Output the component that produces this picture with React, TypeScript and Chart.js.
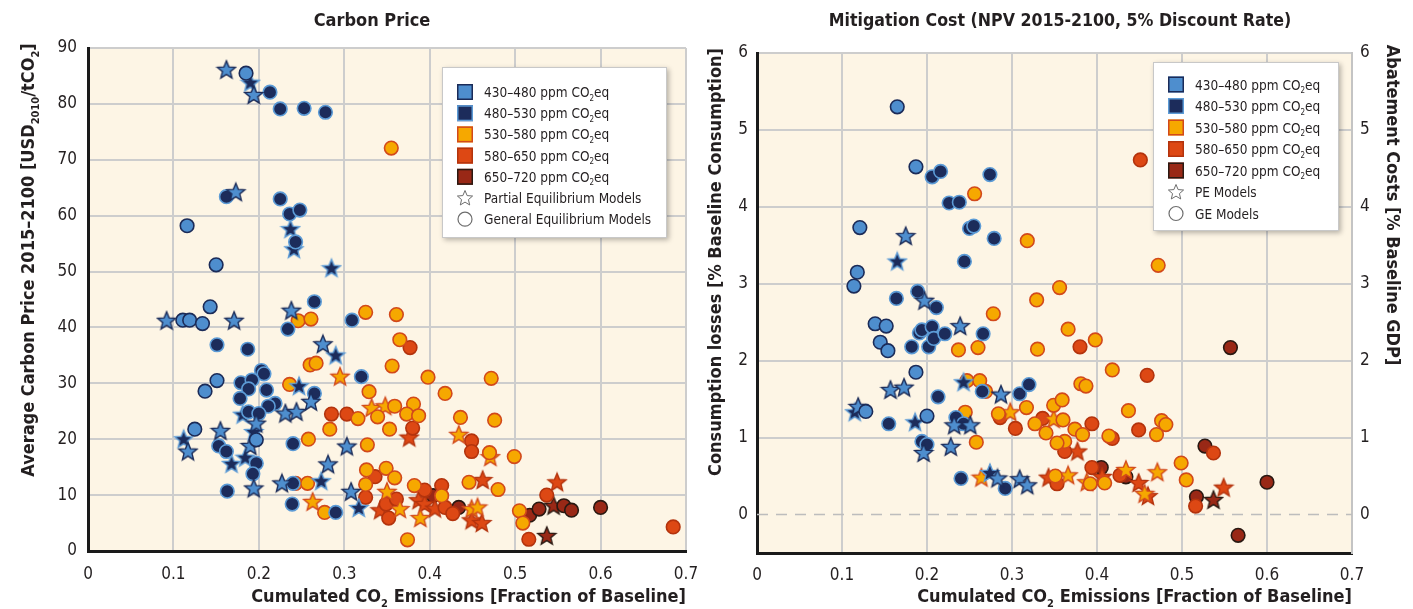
import React, { useEffect, useRef } from 'react';
import { Chart, registerables } from 'chart.js';
Chart.register(...registerables);

const FONT = '"Liberation Sans Narrow", "DejaVu Sans Condensed", "Roboto Condensed", "Open Sans", sans-serif';

// ---------- Carbon Price (left) ----------
const cpTitle = 'Carbon Price';
const cpXTicks = [0, 0.1, 0.2, 0.3, 0.4, 0.5, 0.6, 0.7];
const cpXLabels = ['0', '0.1', '0.2', '0.3', '0.4', '0.5', '0.6', '0.7'];
const cpYTicks = [0, 10, 20, 30, 40, 50, 60, 70, 80, 90];
const cpYLabels = ['0', '10', '20', '30', '40', '50', '60', '70', '80', '90'];

const cp430GE = [[0.185, 85.5], [0.116, 58.2], [0.150, 51.2], [0.143, 43.7], [0.111, 41.3], [0.119, 41.3], [0.134, 40.7], [0.151, 30.5], [0.137, 28.6], [0.125, 21.8], [0.197, 19.9]];
const cp430PE = [[0.162, 86.1], [0.194, 81.6], [0.173, 64.2], [0.092, 41.2], [0.171, 41.2], [0.238, 43.0], [0.275, 37.0], [0.261, 26.7], [0.231, 24.6], [0.244, 24.9], [0.197, 22.8], [0.190, 18.8], [0.155, 21.5], [0.117, 17.8], [0.194, 11.2], [0.303, 18.7], [0.281, 15.5], [0.227, 12.1], [0.308, 10.6]];
const cp480GE = [[0.213, 82.1], [0.225, 79.1], [0.253, 79.2], [0.278, 78.5], [0.162, 63.4], [0.225, 63.0], [0.236, 60.3], [0.248, 61.0], [0.243, 55.3], [0.265, 44.6], [0.234, 39.7], [0.309, 41.3], [0.151, 36.9], [0.187, 36.1], [0.320, 31.2], [0.203, 32.3], [0.206, 31.7], [0.179, 30.1], [0.192, 30.6], [0.188, 29.0], [0.209, 28.8], [0.178, 27.3], [0.219, 26.4], [0.211, 25.9], [0.265, 28.2], [0.188, 24.9], [0.200, 24.6], [0.240, 19.2], [0.153, 18.8], [0.162, 17.8], [0.197, 15.7], [0.193, 13.8], [0.163, 10.7], [0.240, 12.1], [0.239, 8.4], [0.290, 6.9]];
const cp480PE = [[0.190, 83.8], [0.237, 57.6], [0.241, 54.0], [0.285, 50.6], [0.181, 24.4], [0.194, 21.3], [0.168, 15.6], [0.184, 16.7], [0.112, 20.0], [0.273, 12.5], [0.317, 7.7], [0.290, 35.0], [0.247, 29.5]];
const cp530GE = [[0.355, 72.1], [0.246, 41.2], [0.261, 41.5], [0.325, 42.7], [0.361, 42.3], [0.260, 33.3], [0.267, 33.6], [0.365, 37.8], [0.356, 33.1], [0.329, 28.5], [0.236, 29.8], [0.398, 31.1], [0.472, 30.9], [0.418, 28.2], [0.316, 23.7], [0.339, 24.0], [0.359, 25.9], [0.381, 26.3], [0.373, 24.5], [0.387, 24.2], [0.436, 23.9], [0.476, 23.4], [0.283, 21.8], [0.353, 21.8], [0.258, 20.0], [0.327, 19.0], [0.470, 17.6], [0.499, 16.9], [0.326, 14.5], [0.349, 14.8], [0.359, 13.1], [0.325, 11.9], [0.243, 12.1], [0.257, 12.1], [0.382, 11.7], [0.414, 9.9], [0.446, 12.3], [0.480, 11.0], [0.277, 6.9], [0.374, 2.0], [0.505, 7.2], [0.509, 5.0]];
const cp530PE = [[0.295, 31.2], [0.332, 25.6], [0.348, 25.9], [0.434, 20.8], [0.471, 16.8], [0.350, 10.6], [0.365, 7.5], [0.389, 5.9], [0.449, 7.5], [0.456, 7.8], [0.263, 8.8]];
const cp580GE = [[0.285, 24.5], [0.303, 24.5], [0.377, 36.4], [0.380, 22.0], [0.449, 19.7], [0.449, 17.8], [0.336, 13.3], [0.325, 9.6], [0.394, 10.9], [0.414, 11.7], [0.349, 8.4], [0.361, 9.3], [0.352, 5.9], [0.418, 7.8], [0.427, 6.7], [0.537, 10.0], [0.516, 2.1], [0.685, 4.3]];
const cp580PE = [[0.376, 20.3], [0.462, 12.7], [0.342, 7.3], [0.387, 9.1], [0.394, 8.4], [0.406, 7.6], [0.449, 5.5], [0.461, 5.0], [0.549, 12.3]];
const cp650GE = [[0.404, 9.9], [0.434, 7.8], [0.517, 6.4], [0.528, 7.5], [0.557, 8.1], [0.566, 7.3], [0.600, 7.8]];
const cp650PE = [[0.545, 8.1], [0.537, 2.7]];

// ---------- Mitigation Cost (right) ----------
const mcTitle = 'Mitigation Cost (NPV 2015-2100, 5% Discount Rate)';
const mcXTicks = [0, 0.1, 0.2, 0.3, 0.4, 0.5, 0.6, 0.7];
const mcXLabels = ['0', '0.1', '0.2', '0.3', '0.4', '0.5', '0.6', '0.7'];
const mcYTicks = [0, 1, 2, 3, 4, 5, 6];
const mcYLabels = ['0', '1', '2', '3', '4', '5', '6'];

const mc430GE = [[0.165, 5.30], [0.187, 4.52], [0.121, 3.73], [0.118, 3.15], [0.114, 2.97], [0.139, 2.48], [0.152, 2.45], [0.145, 2.24], [0.154, 2.13], [0.187, 1.85], [0.128, 1.34], [0.200, 1.28]];
const mc430PE = [[0.175, 3.62], [0.197, 2.78], [0.239, 2.45], [0.157, 1.62], [0.173, 1.65], [0.287, 1.56], [0.119, 1.40], [0.232, 1.16], [0.251, 1.16], [0.196, 0.80], [0.228, 0.88], [0.283, 0.47], [0.309, 0.46], [0.318, 0.38]];
const mc480GE = [[0.206, 4.39], [0.216, 4.46], [0.274, 4.42], [0.226, 4.05], [0.238, 4.06], [0.250, 3.72], [0.255, 3.75], [0.279, 3.59], [0.244, 3.29], [0.164, 2.81], [0.189, 2.90], [0.211, 2.69], [0.182, 2.18], [0.202, 2.18], [0.191, 2.36], [0.194, 2.40], [0.206, 2.44], [0.208, 2.29], [0.221, 2.35], [0.266, 2.35], [0.213, 1.53], [0.265, 1.60], [0.309, 1.57], [0.320, 1.69], [0.155, 1.18], [0.234, 1.26], [0.243, 1.18], [0.194, 0.95], [0.200, 0.91], [0.240, 0.47], [0.292, 0.34]];
const mc480PE = [[0.165, 3.29], [0.243, 1.72], [0.115, 1.33], [0.186, 1.20], [0.274, 0.54]];
const mc530GE = [[0.256, 4.17], [0.318, 3.56], [0.356, 2.95], [0.329, 2.79], [0.278, 2.61], [0.237, 2.14], [0.260, 2.17], [0.330, 2.15], [0.366, 2.41], [0.472, 3.24], [0.398, 2.27], [0.418, 1.88], [0.381, 1.70], [0.387, 1.67], [0.247, 1.74], [0.262, 1.74], [0.269, 1.60], [0.317, 1.39], [0.349, 1.42], [0.359, 1.49], [0.437, 1.35], [0.360, 1.23], [0.476, 1.22], [0.481, 1.17], [0.374, 1.11], [0.383, 1.04], [0.470, 1.04], [0.414, 1.02], [0.362, 0.95], [0.353, 0.93], [0.245, 1.33], [0.284, 1.31], [0.327, 1.18], [0.340, 1.06], [0.258, 0.94], [0.351, 0.50], [0.499, 0.67], [0.505, 0.45], [0.409, 0.41], [0.392, 0.40]];
const mc530PE = [[0.298, 1.33], [0.349, 1.24], [0.264, 0.48], [0.366, 0.51], [0.434, 0.58], [0.471, 0.55], [0.456, 0.27], [0.388, 0.42]];
const mc580GE = [[0.451, 4.61], [0.380, 2.18], [0.459, 1.81], [0.286, 1.26], [0.304, 1.12], [0.336, 1.25], [0.362, 0.82], [0.394, 1.18], [0.449, 1.10], [0.418, 0.99], [0.537, 0.80], [0.394, 0.61], [0.427, 0.51], [0.353, 0.40], [0.516, 0.11]];
const mc580PE = [[0.377, 0.82], [0.343, 0.48], [0.406, 0.49], [0.449, 0.41], [0.460, 0.24], [0.549, 0.35]];
const mc650GE = [[0.557, 2.17], [0.527, 0.89], [0.405, 0.61], [0.434, 0.49], [0.517, 0.23], [0.600, 0.42], [0.566, -0.27]];
const mc650PE = [[0.537, 0.19]];

// ---------- styles ----------
const COLORS = [
  { fill: '#4E8ECE', border: '#1B2B58' },
  { fill: '#1C2C5B', border: '#5C9BD6' },
  { fill: '#F6A800', border: '#D2491B' },
  { fill: '#DD4814', border: '#B3330D' },
  { fill: '#992816', border: '#2A1912' },
];
const rangeLabels = ['430–480', '480–530', '530–580', '580–650', '650–720'];
const BG = '#FDF5E5';
const GRID = '#CDCDCD';

type Seg = { t: string; sub?: boolean };

function drawRich(ctx: CanvasRenderingContext2D, segs: Seg[], x: number, y: number, size: number, weight: string, align: 'left' | 'right' | 'center', color = '#231F20') {
  ctx.save();
  ctx.textBaseline = 'alphabetic';
  ctx.textAlign = 'left';
  ctx.fillStyle = color;
  const sub = Math.round(size * 0.62);
  const widths = segs.map((s) => {
    ctx.font = `${weight} ${s.sub ? sub : size}px ${FONT}`;
    return ctx.measureText(s.t).width;
  });
  const total = widths.reduce((a, b) => a + b, 0);
  let cx = align === 'left' ? x : align === 'right' ? x - total : x - total / 2;
  segs.forEach((s, i) => {
    ctx.font = `${weight} ${s.sub ? sub : size}px ${FONT}`;
    ctx.fillText(s.t, cx, s.sub ? y + size * 0.27 : y);
    cx += widths[i];
  });
  ctx.restore();
}

function starPath(ctx: CanvasRenderingContext2D, cx: number, cy: number, R: number, r: number) {
  ctx.beginPath();
  for (let i = 0; i < 10; i++) {
    const a = -Math.PI / 2 + (i * Math.PI) / 5;
    const rad = i % 2 === 0 ? R : r;
    const px = cx + rad * Math.cos(a);
    const py = cy + rad * Math.sin(a);
    if (i === 0) ctx.moveTo(px, py);
    else ctx.lineTo(px, py);
  }
  ctx.closePath();
}

function makeStar(fill: string, border: string) {
  const c = document.createElement('canvas');
  c.width = 22;
  c.height = 22;
  const ctx = c.getContext('2d')!;
  starPath(ctx, 11, 11.5, 9.5, 4.2);
  ctx.fillStyle = fill;
  ctx.fill();
  ctx.lineWidth = 1.4;
  ctx.strokeStyle = border;
  ctx.lineJoin = 'miter';
  ctx.stroke();
  return c;
}

function buildDatasets(groups: number[][][][]) {
  const ds: any[] = [];
  groups.forEach(([ge, pe], i) => {
    const col = COLORS[i];
    ds.push({
      data: ge.map(([x, y]) => ({ x, y })),
      pointStyle: 'circle',
      pointRadius: 6.8,
      backgroundColor: col.fill,
      borderColor: col.border,
      borderWidth: 1.6,
    });
    ds.push({
      data: pe.map(([x, y]) => ({ x, y })),
      pointStyle: makeStar(col.fill, col.border),
      pointRadius: 9,
      backgroundColor: col.fill,
      borderColor: col.border,
      borderWidth: 1.4,
    });
  });
  return ds;
}

function fixedTicks(values: number[]) {
  return (scale: any) => {
    scale.ticks = values.map((v) => ({ value: v }));
  };
}

function fitHeight(h: number) {
  return (s: any) => {
    s.height = h;
    s.paddingLeft = 0;
    s.paddingRight = 0;
  };
}

function fitWidth(w: number) {
  return (s: any) => {
    s.width = w;
    s.paddingTop = 0;
    s.paddingBottom = 0;
  };
}

const bgPlugin = {
  id: 'bgArea',
  beforeDraw(chart: any) {
    const { ctx, chartArea: a } = chart;
    ctx.save();
    ctx.fillStyle = BG;
    ctx.fillRect(a.left, a.top, a.right - a.left, a.bottom - a.top);
    ctx.restore();
  },
};

function legendPlugin(box: { x: number; y: number; w: number; h: number; row0: number; step: number; pe: string; ge: string }) {
  return {
    id: 'customLegend',
    afterDraw(chart: any) {
      const ctx: CanvasRenderingContext2D = chart.ctx;
      ctx.save();
      ctx.shadowColor = 'rgba(0,0,0,0.28)';
      ctx.shadowBlur = 5;
      ctx.shadowOffsetX = 2;
      ctx.shadowOffsetY = 2;
      ctx.fillStyle = '#FFFFFF';
      ctx.fillRect(box.x, box.y, box.w, box.h);
      ctx.restore();
      ctx.save();
      ctx.strokeStyle = '#C8C8C8';
      ctx.lineWidth = 1;
      ctx.strokeRect(box.x + 0.5, box.y + 0.5, box.w - 1, box.h - 1);
      const ix = box.x + 15;
      const tx = box.x + 42;
      const fs = 13.5;
      COLORS.forEach((c, i) => {
        const cy = box.row0 + i * box.step;
        ctx.fillStyle = c.fill;
        ctx.fillRect(ix, cy - 8, 16, 16);
        ctx.strokeStyle = c.border;
        ctx.lineWidth = 1.5;
        ctx.strokeRect(ix + 0.75, cy - 7.25, 14.5, 14.5);
        drawRich(ctx, [{ t: rangeLabels[i] + ' ppm CO' }, { t: '2', sub: true }, { t: 'eq' }], tx, cy + 5, fs, 'normal', 'left');
      });
      const sy = box.row0 + 5 * box.step;
      starPath(ctx, ix + 8, sy + 0.5, 8, 3.6);
      ctx.fillStyle = '#FFFFFF';
      ctx.fill();
      ctx.strokeStyle = '#6D6D6D';
      ctx.lineWidth = 1;
      ctx.stroke();
      drawRich(ctx, [{ t: box.pe }], tx, sy + 5, fs, 'normal', 'left');
      const gy = box.row0 + 6 * box.step;
      ctx.beginPath();
      ctx.arc(ix + 8, gy, 7, 0, Math.PI * 2);
      ctx.fillStyle = '#FFFFFF';
      ctx.fill();
      ctx.strokeStyle = '#6D6D6D';
      ctx.lineWidth = 1.2;
      ctx.stroke();
      drawRich(ctx, [{ t: box.ge }], tx, gy + 5, fs, 'normal', 'left');
      ctx.restore();
    },
  };
}

function tickFont() {
  return { family: FONT, size: 17, weight: 'normal' as const };
}

function leftConfig(): any {
  const titlePlugin = {
    id: 'titlesL',
    afterDraw(chart: any) {
      const ctx: CanvasRenderingContext2D = chart.ctx;
      drawRich(ctx, [{ t: cpTitle }], 372, 26, 18, 'bold', 'center');
      drawRich(ctx, [{ t: 'Cumulated CO' }, { t: '2', sub: true }, { t: ' Emissions [Fraction of Baseline]' }], 686, 602, 18, 'bold', 'right');
      ctx.save();
      ctx.translate(34, 260);
      ctx.rotate(-Math.PI / 2);
      drawRich(ctx, [{ t: 'Average Carbon Price 2015–2100 [USD' }, { t: '2010', sub: true }, { t: '/tCO' }, { t: '2', sub: true }, { t: ']' }], 0, 0, 18, 'bold', 'center');
      ctx.restore();
    },
  };
  return {
    type: 'scatter',
    data: {
      datasets: buildDatasets([
        [cp430GE, cp430PE],
        [cp480GE, cp480PE],
        [cp530GE, cp530PE],
        [cp580GE, cp580PE],
        [cp650GE, cp650PE],
      ]),
    },
    options: {
      responsive: false,
      animation: false,
      events: [],
      layout: { padding: { left: 0, right: 14, top: 48, bottom: 0 } },
      plugins: { legend: { display: false }, tooltip: { enabled: false }, title: { display: false } },
      scales: {
        x: {
          type: 'linear',
          min: 0,
          max: 0.7,
          afterBuildTicks: fixedTicks(cpXTicks),
          afterFit: fitHeight(58),
          ticks: { callback: (_v: any, i: number) => cpXLabels[i], font: tickFont(), color: '#231F20', padding: 13, maxRotation: 0 },
          grid: { color: GRID, lineWidth: 2, drawTicks: false },
          border: { display: true, color: '#1A1A1A', width: 3 },
        },
        y: {
          type: 'linear',
          min: 0,
          max: 90,
          afterBuildTicks: fixedTicks(cpYTicks),
          afterFit: fitWidth(88),
          ticks: { callback: (_v: any, i: number) => cpYLabels[i], font: tickFont(), color: '#231F20', padding: 11 },
          grid: { color: GRID, lineWidth: 2, drawTicks: false },
          border: { display: true, color: '#1A1A1A', width: 3 },
        },
      },
    },
    plugins: [bgPlugin, titlePlugin, legendPlugin({ x: 442, y: 67, w: 225, h: 171, row0: 92, step: 21.2, pe: 'Partial Equilibrium Models', ge: 'General Equilibrium Models' })],
  };
}

function rightConfig(): any {
  const titlePlugin = {
    id: 'titlesR',
    beforeDatasetsDraw(chart: any) {
      const { ctx, chartArea: a, scales } = chart;
      const y0 = scales.y.getPixelForValue(0);
      ctx.save();
      ctx.strokeStyle = '#BDBDBD';
      ctx.lineWidth = 1.6;
      ctx.setLineDash([11, 8]);
      ctx.beginPath();
      ctx.moveTo(a.left, y0);
      ctx.lineTo(a.right, y0);
      ctx.stroke();
      ctx.restore();
    },
    afterDraw(chart: any) {
      const ctx: CanvasRenderingContext2D = chart.ctx;
      drawRich(ctx, [{ t: mcTitle }], 360, 26, 17.6, 'bold', 'center');
      drawRich(ctx, [{ t: 'Cumulated CO' }, { t: '2', sub: true }, { t: ' Emissions [Fraction of Baseline]' }], 652, 602, 18, 'bold', 'right');
      ctx.save();
      ctx.translate(21, 262);
      ctx.rotate(-Math.PI / 2);
      drawRich(ctx, [{ t: 'Consumption losses [% Baseline Consumption]' }], 0, 0, 18, 'bold', 'center');
      ctx.restore();
      ctx.save();
      ctx.translate(687, 205);
      ctx.rotate(Math.PI / 2);
      drawRich(ctx, [{ t: 'Abatement Costs [% Baseline GDP]' }], 0, 0, 18, 'bold', 'center');
      ctx.restore();
    },
  };
  return {
    type: 'scatter',
    data: {
      datasets: buildDatasets([
        [mc430GE, mc430PE],
        [mc480GE, mc480PE],
        [mc530GE, mc530PE],
        [mc580GE, mc580PE],
        [mc650GE, mc650PE],
      ]),
    },
    options: {
      responsive: false,
      animation: false,
      events: [],
      layout: { padding: { left: 0, right: 0, top: 53, bottom: 0 } },
      plugins: { legend: { display: false }, tooltip: { enabled: false }, title: { display: false } },
      scales: {
        x: {
          type: 'linear',
          min: 0,
          max: 0.7,
          afterBuildTicks: fixedTicks(mcXTicks),
          afterFit: fitHeight(56),
          ticks: { callback: (_v: any, i: number) => mcXLabels[i], font: tickFont(), color: '#231F20', padding: 12, maxRotation: 0 },
          grid: { color: GRID, lineWidth: 2, drawTicks: false },
          border: { display: true, color: '#1A1A1A', width: 3 },
        },
        y: {
          type: 'linear',
          position: 'left',
          min: -0.5,
          max: 6,
          afterBuildTicks: fixedTicks(mcYTicks),
          afterFit: fitWidth(57),
          ticks: { callback: (_v: any, i: number) => mcYLabels[i], font: tickFont(), color: '#231F20', padding: 9 },
          grid: { color: (c: any) => (c.tick && c.tick.value === 0 ? 'rgba(0,0,0,0)' : GRID), lineWidth: 2, drawTicks: false },
          border: { display: true, color: '#1A1A1A', width: 3 },
        },
        y2: {
          type: 'linear',
          position: 'right',
          min: -0.5,
          max: 6,
          afterBuildTicks: fixedTicks(mcYTicks),
          afterFit: fitWidth(61),
          ticks: { callback: (_v: any, i: number) => mcYLabels[i], font: tickFont(), color: '#231F20', padding: 8 },
          grid: { display: false, drawTicks: false },
          border: { display: true, color: '#C4C4C4', width: 2 },
        },
      },
    },
    plugins: [bgPlugin, titlePlugin, legendPlugin({ x: 453, y: 62, w: 186, h: 169, row0: 84.5, step: 21.5, pe: 'PE Models', ge: 'GE Models' })],
  };
}

export default function App() {
  const leftRef = useRef<HTMLCanvasElement>(null);
  const rightRef = useRef<HTMLCanvasElement>(null);
  useEffect(() => {
    const c1 = new Chart(leftRef.current!, leftConfig());
    const c2 = new Chart(rightRef.current!, rightConfig());
    return () => {
      c1.destroy();
      c2.destroy();
    };
  }, []);
  return (
    <div style={{ position: 'fixed', left: 0, top: 0, width: 1413, height: 609, background: '#FFFFFF', overflow: 'hidden' }}>
      <canvas ref={leftRef} width={700} height={609} style={{ position: 'absolute', left: 0, top: 0, display: 'block' }} />
      <canvas ref={rightRef} width={713} height={609} style={{ position: 'absolute', left: 700, top: 0, display: 'block' }} />
    </div>
  );
}
